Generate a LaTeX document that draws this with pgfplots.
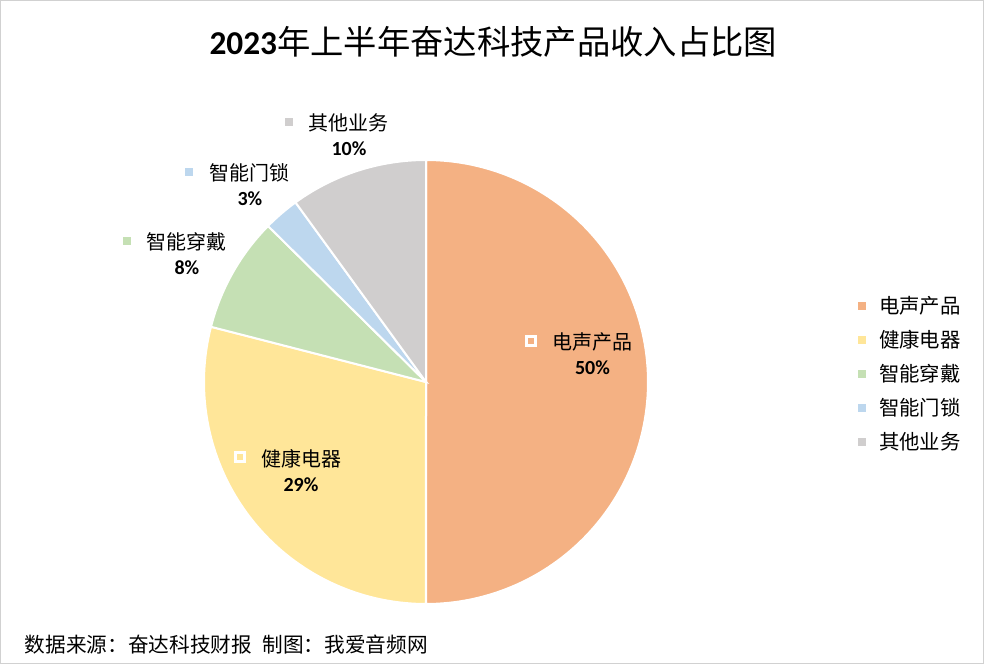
\documentclass[border=0pt]{standalone}
\usepackage{pgfplots}
\pgfplotsset{compat=1.18}
\usepackage{fontspec}
\setmainfont{Carlito}
\newfontfamily\cjk{Noto Sans CJK SC}
\definecolor{cA}{HTML}{F4B183}
\definecolor{cB}{HTML}{FFE699}
\definecolor{cC}{HTML}{C5E0B4}
\definecolor{cD}{HTML}{BDD7EE}
\definecolor{cE}{HTML}{D0CECE}
% shares in percent
\def\vA{50}\def\vB{29}\def\vC{8.4}\def\vD{2.6}\def\vE{10}
\pgfmathsetmacro{\sA}{90}
\pgfmathsetmacro{\eA}{\sA-3.6*\vA}
\pgfmathsetmacro{\eB}{\eA-3.6*\vB}
\pgfmathsetmacro{\eC}{\eB-3.6*\vC}
\pgfmathsetmacro{\eD}{\eC-3.6*\vD}
\pgfmathsetmacro{\eE}{\eD-3.6*\vE}
\newcommand{\sq}[1]{{\setlength\fboxsep{0pt}\setlength\fboxrule{2.2pt}\fcolorbox{white}{#1}{\rule{0pt}{4pt}\hspace{4pt}}}}
\begin{document}
\begin{tikzpicture}
\useasboundingbox (0,0) rectangle (738pt,498pt);
\draw[black!18, line width=1pt] (0.5pt,0.5pt) rectangle (737.5pt,497.5pt);
\node[font=\fontsize{25}{29}\selectfont] at (370pt,466.5pt) {\textbf{2023}{\cjk 年上半年奋达科技产品收入占比图}};
\node[anchor=west, font=\cjk\fontsize{15.5}{18}\selectfont, inner sep=0pt] at (18.5pt,14.5pt) {数据来源：奋达科技财报\hspace{0.5em}制图：我爱音频网};
\begin{axis}[
  at={(319.5pt,211.5pt)}, anchor=origin,
  width=333pt, height=333pt, scale only axis,
  xmin=-1, xmax=1, ymin=-1, ymax=1,
  hide axis, clip=false,
  legend style={at={(1.472,0.518)}, anchor=west, draw=none, fill=none,
    font=\cjk\fontsize{15.3}{18}\selectfont, row sep=7pt, column sep=8pt, inner sep=0pt},
  legend cell align=left,
  legend image code/.code={\fill[#1, draw=none] (0pt,-3pt) rectangle (6pt,3pt);},
]
\addplot[fill=cA, draw=white, line width=1.5pt, domain=\eA:\sA, samples=120, variable=\t] ({cos(\t)},{sin(\t)}) -- (axis cs:0,0) -- cycle;
\addlegendentry{电声产品}
\addplot[fill=cB, draw=white, line width=1.5pt, domain=\eB:\eA, samples=80, variable=\t] ({cos(\t)},{sin(\t)}) -- (axis cs:0,0) -- cycle;
\addlegendentry{健康电器}
\addplot[fill=cC, draw=white, line width=1.5pt, domain=\eC:\eB, samples=30, variable=\t] ({cos(\t)},{sin(\t)}) -- (axis cs:0,0) -- cycle;
\addlegendentry{智能穿戴}
\addplot[fill=cD, draw=white, line width=1.5pt, domain=\eD:\eC, samples=15, variable=\t] ({cos(\t)},{sin(\t)}) -- (axis cs:0,0) -- cycle;
\addlegendentry{智能门锁}
\addplot[fill=cE, draw=white, line width=1.5pt, domain=\eE:\eD, samples=40, variable=\t] ({cos(\t)},{sin(\t)}) -- (axis cs:0,0) -- cycle;
\addlegendentry{其他业务}
% data labels
\tikzset{lbl/.style={align=center, font=\fontsize{15}{18.75}\selectfont, inner sep=0pt}}
\node[lbl] at (axis cs:0.750,0.128) {{\cjk 电声产品}\\\textbf{50\%}};
\node[inner sep=0pt] at (axis cs:0.473,0.185) {\sq{cA}};
\node[lbl] at (axis cs:-0.563,-0.399) {{\cjk 健康电器}\\\textbf{29\%}};
\node[inner sep=0pt] at (axis cs:-0.838,-0.338) {\sq{cB}};
\node[lbl] at (axis cs:-1.077,0.577) {{\cjk 智能穿戴}\\\textbf{8\%}};
\node[fill=cC, minimum size=6pt, inner sep=0pt] at (axis cs:-1.347,0.635) {};
\node[lbl] at (axis cs:-0.793,0.887) {{\cjk 智能门锁}\\\textbf{3\%}};
\node[fill=cD, minimum size=6pt, inner sep=0pt] at (axis cs:-1.068,0.946) {};
\node[lbl] at (axis cs:-0.347,1.113) {{\cjk 其他业务}\\\textbf{10\%}};
\node[fill=cE, minimum size=6pt, inner sep=0pt] at (axis cs:-0.617,1.171) {};
\end{axis}
\end{tikzpicture}
\end{document}
